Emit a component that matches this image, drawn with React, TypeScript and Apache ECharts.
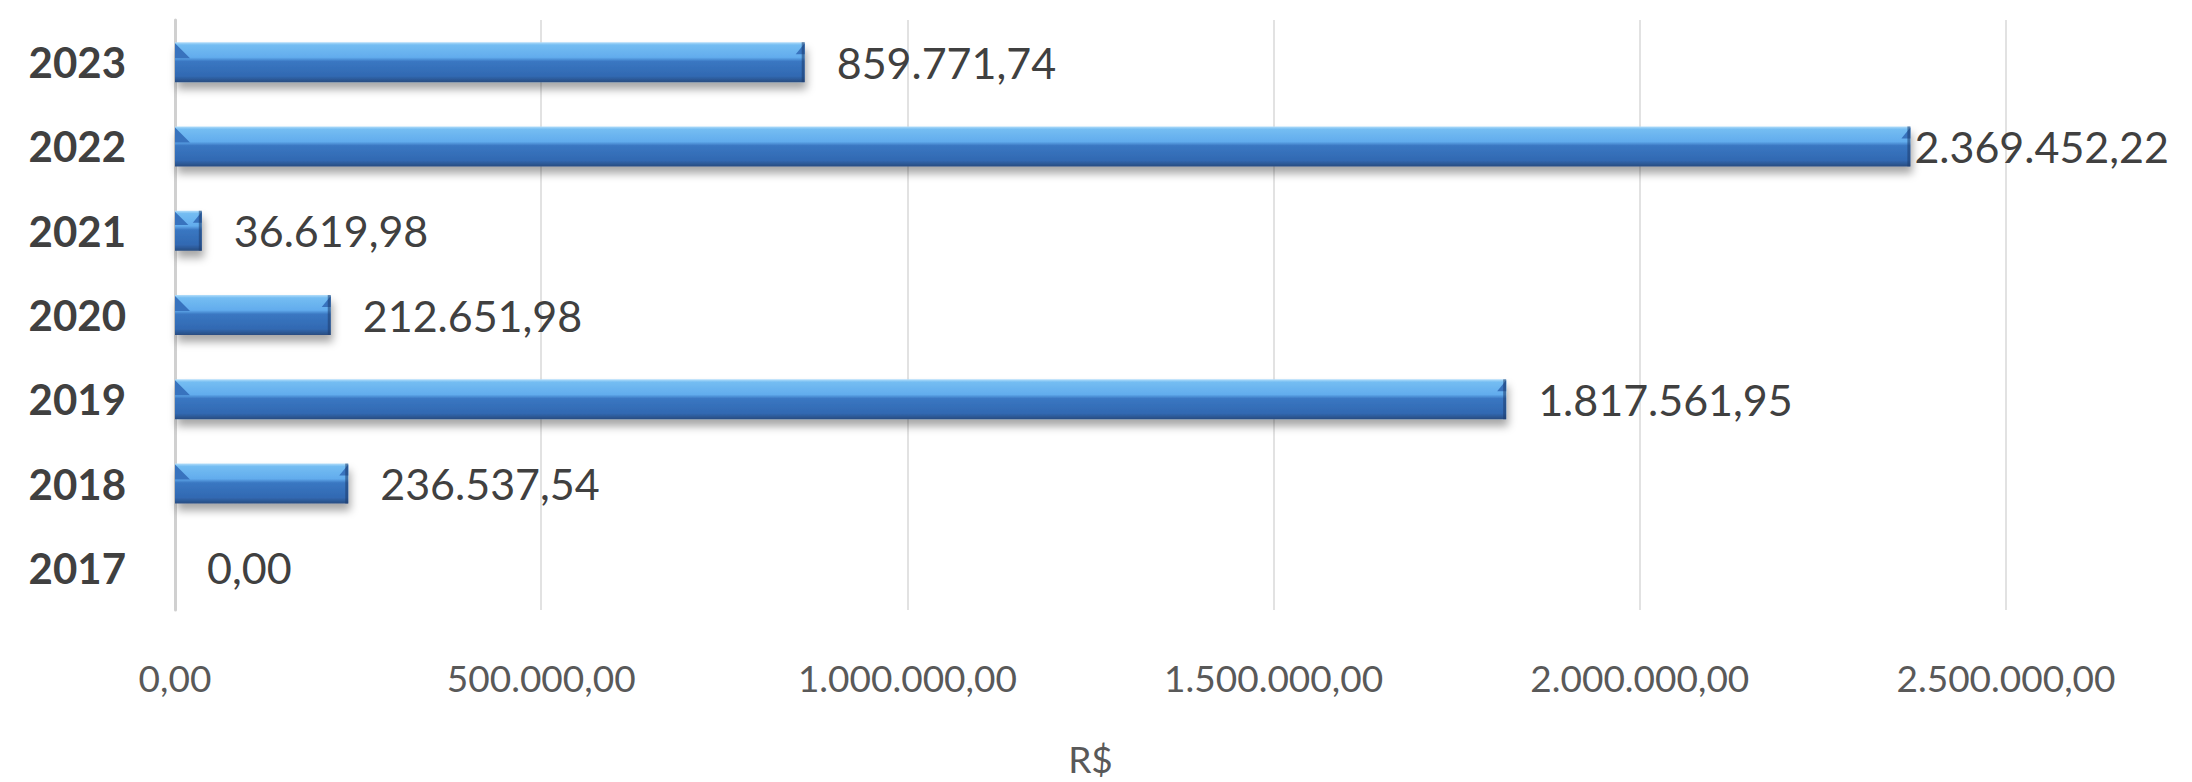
import React, { useEffect, useRef } from "react";
import * as echarts from "echarts";

const years = ["2017", "2018", "2019", "2020", "2021", "2022", "2023"];
const values = [0, 236537.54, 1817561.95, 212651.98, 36619.98, 2369452.22, 859771.74];
const axisName = "R$";
const xTicks = [0, 500000, 1000000, 1500000, 2000000, 2500000];

function fmtBR(v: number): string {
  const fixed = Math.abs(v).toFixed(2);
  const [intPart, dec] = fixed.split(".");
  const withDots = intPart.replace(/\B(?=(\d{3})+(?!\d))/g, ".");
  return (v < 0 ? "-" : "") + withDots + "," + dec;
}

const BAR_H = 40;

export default function App() {
  const ref = useRef<HTMLDivElement>(null);
  useEffect(() => {
    document.body.style.margin = "0";
    const chart = echarts.init(ref.current!, undefined, { renderer: "svg" });
    const barColor = new echarts.graphic.LinearGradient(0, 0, 0, 1, [
      { offset: 0, color: "#b4defa" },
      { offset: 0.07, color: "#74bdf2" },
      { offset: 0.38, color: "#62aced" },
      { offset: 0.48, color: "#3a77c2" },
      { offset: 0.85, color: "#3169b2" },
      { offset: 1, color: "#294c80" },
    ]);
    const bevel = (params: any, api: any) => {
      const v = api.value(0);
      const idx = api.value(1);
      if (!v) return null;
      const p0 = api.coord([0, idx]);
      const p1 = api.coord([v, idx]);
      const top = p0[1] - BAR_H / 2;
      const x0 = p0[0];
      const x1 = p1[0];
      const len = x1 - x0;
      const bl = Math.min(15, len / 2);
      const br = Math.min(9, len / 2);
      const dark = "#3873be";
      return {
        type: "group",
        children: [
          {
            type: "polygon",
            shape: { points: [[x0, top + 1], [x0 + bl, top + bl + 1], [x0, top + bl + 1]] },
            style: { fill: dark },
          },
          {
            type: "polygon",
            shape: { points: [[x1, top + 1], [x1, top + br + 3], [x1 - br, top + br + 3]] },
            style: { fill: dark },
          },
          {
            type: "rect",
            shape: { x: x1 - 3, y: top, width: 3, height: BAR_H },
            style: { fill: "rgba(30,60,110,0.55)" },
          },
        ],
      };
    };
    chart.setOption({
      animation: false,
      backgroundColor: "#ffffff",
      grid: { left: 175, right: 186, top: 20, bottom: 168, containLabel: false },
      xAxis: {
        type: "value",
        min: 0,
        max: xTicks[xTicks.length - 1],
        interval: 500000,
        name: axisName,
        nameLocation: "middle",
        nameGap: 130,
        nameTextStyle: { fontFamily: "Lato", fontSize: 37, color: "#595959" },
        axisLine: { show: false },
        axisTick: { show: false },
        axisLabel: {
          fontFamily: "Lato",
          fontSize: 37,
          color: "#595959",
          margin: 49,
          formatter: (v: number) => fmtBR(v),
        },
        splitLine: { show: true, lineStyle: { color: "#d9d9d9", width: 1.5 } },
      },
      yAxis: {
        type: "category",
        data: years,
        axisLine: { show: true, lineStyle: { color: "#d0d0d0", width: 3 } },
        axisTick: { show: false },
        axisLabel: {
          fontFamily: "Lato",
          fontWeight: "bold",
          fontSize: 42,
          color: "#404040",
          margin: 49,
        },
        splitLine: { show: false },
      },
      series: [
        {
          type: "bar",
          data: values.map((v, i) => ({
            value: v,
            label: years[i] === "2022" ? { distance: 4 } : undefined,
          })),
          barWidth: BAR_H,
          itemStyle: {
            color: barColor,
            shadowColor: "rgba(0,0,0,0.35)",
            shadowBlur: 8,
            shadowOffsetY: 7,
            shadowOffsetX: 2,
          },
          label: {
            show: true,
            position: "right",
            distance: 32,
            fontFamily: "Lato",
            fontSize: 43,
            color: "#404040",
            formatter: (p: any) => fmtBR(p.value),
          },
        },
        {
          type: "custom",
          renderItem: bevel,
          data: values.map((v, i) => [v, i]),
          encode: { x: 0, y: 1 },
          z: 3,
          silent: true,
        },
      ],
    });
    return () => chart.dispose();
  }, []);
  return (
    <div
      ref={ref}
      style={{ position: "fixed", left: 0, top: 0, width: 2192, height: 782 }}
    />
  );
}
